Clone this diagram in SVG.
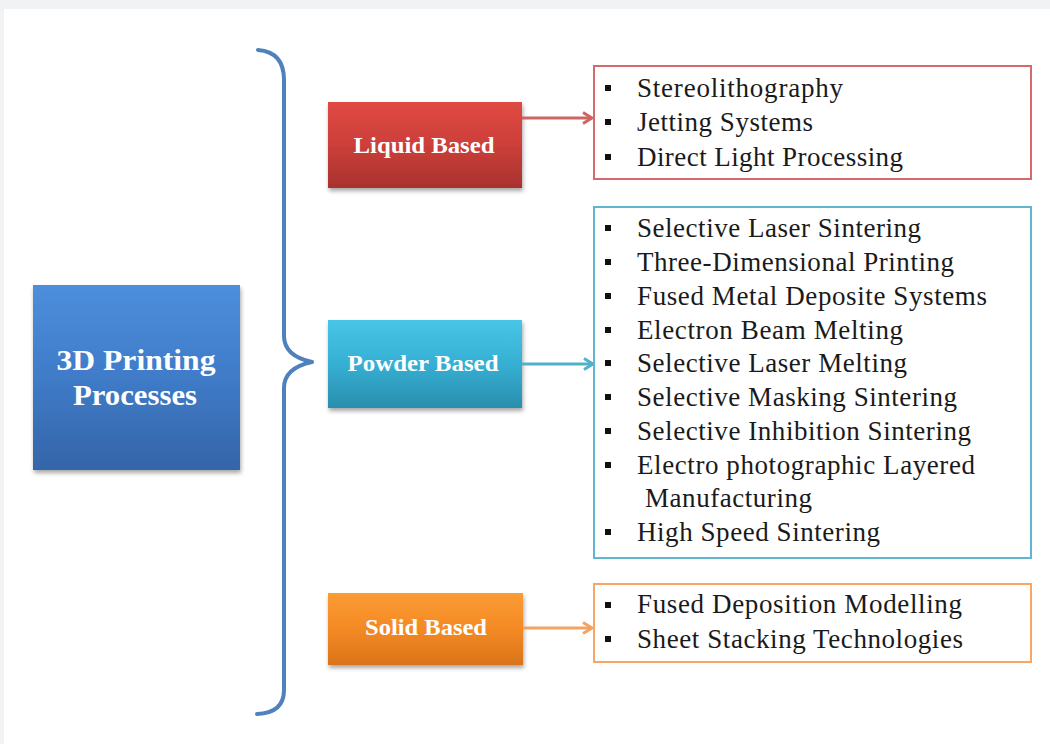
<svg xmlns="http://www.w3.org/2000/svg" width="1050" height="744" viewBox="0 0 1050 744">
  <defs>
    <linearGradient id="gBlue" x1="0" y1="0" x2="0" y2="1">
      <stop offset="0" stop-color="#4d8fdc"/>
      <stop offset="0.5" stop-color="#3f7bc8"/>
      <stop offset="1" stop-color="#3565a8"/>
    </linearGradient>
    <linearGradient id="gRed" x1="0" y1="0" x2="0" y2="1">
      <stop offset="0" stop-color="#e04a44"/>
      <stop offset="0.5" stop-color="#cc3f3a"/>
      <stop offset="1" stop-color="#a8322e"/>
    </linearGradient>
    <linearGradient id="gCyan" x1="0" y1="0" x2="0" y2="1">
      <stop offset="0" stop-color="#48c6e6"/>
      <stop offset="0.5" stop-color="#35afd3"/>
      <stop offset="1" stop-color="#2a8fae"/>
    </linearGradient>
    <linearGradient id="gOrange" x1="0" y1="0" x2="0" y2="1">
      <stop offset="0" stop-color="#fb9c36"/>
      <stop offset="0.5" stop-color="#f48a24"/>
      <stop offset="1" stop-color="#d9731a"/>
    </linearGradient>
    <filter id="shadow" x="-10%" y="-10%" width="125%" height="130%">
      <feGaussianBlur in="SourceAlpha" stdDeviation="2"/>
      <feOffset dx="1" dy="3" result="b"/>
      <feComponentTransfer><feFuncA type="linear" slope="0.35"/></feComponentTransfer>
      <feMerge><feMergeNode/><feMergeNode in="SourceGraphic"/></feMerge>
    </filter>
    <marker id="arrRed" viewBox="0 0 14 14" refX="12" refY="7" markerWidth="14" markerHeight="14" markerUnits="userSpaceOnUse" orient="auto">
      <path d="M3,1.5 L12,7 L3,12.5" fill="none" stroke="#cf6462" stroke-width="3" stroke-linejoin="round"/>
    </marker>
    <marker id="arrCyan" viewBox="0 0 14 14" refX="12" refY="7" markerWidth="14" markerHeight="14" markerUnits="userSpaceOnUse" orient="auto">
      <path d="M3,1.5 L12,7 L3,12.5" fill="none" stroke="#52b0cc" stroke-width="3" stroke-linejoin="round"/>
    </marker>
    <marker id="arrOrange" viewBox="0 0 14 14" refX="12" refY="7" markerWidth="14" markerHeight="14" markerUnits="userSpaceOnUse" orient="auto">
      <path d="M3,1.5 L12,7 L3,12.5" fill="none" stroke="#f4a262" stroke-width="3" stroke-linejoin="round"/>
    </marker>
  </defs>
  <style>
    .label { font-family: "Liberation Serif", "Times New Roman", serif; font-weight: bold; fill: #ffffff; text-anchor: middle; }
    .item { font-family: "Liberation Serif", "Times New Roman", serif; font-size: 27px; fill: #1a1a1a; }
    .bullet { fill: #111111; }
    .list { fill: #ffffff; stroke-width: 2; }
  </style>

  <!-- page -->
  <rect x="0" y="0" width="1050" height="744" fill="#f1f2f4"/>
  <rect x="4" y="9" width="1046" height="735" fill="#ffffff"/>

  <!-- root node -->
  <g id="root">
    <rect x="33" y="285" width="207" height="185" fill="url(#gBlue)" filter="url(#shadow)"/>
    <text class="label" x="136" y="370" font-size="30" textLength="159" lengthAdjust="spacingAndGlyphs">3D Printing</text>
    <text class="label" x="135" y="405" font-size="30" textLength="124" lengthAdjust="spacingAndGlyphs">Processes</text>
  </g>

  <!-- grouping brace -->
  <g id="brace">
    <path d="M258,50 Q284,52 284,80 L284,336 Q284,356 312,362 Q284,368 284,388 L284,690 Q284,713 257,714" fill="none" stroke="#4f81bd" stroke-width="4" stroke-linecap="round" stroke-linejoin="round"/>
  </g>

  <!-- category nodes -->
  <g id="liquid">
    <rect x="328" y="102" width="194" height="86" fill="url(#gRed)" filter="url(#shadow)"/>
    <text class="label" x="424" y="153" font-size="23" textLength="141" lengthAdjust="spacingAndGlyphs">Liquid Based</text>
  </g>
  <g id="powder">
    <rect x="328" y="320" width="194" height="88" fill="url(#gCyan)" filter="url(#shadow)"/>
    <text class="label" x="423" y="371" font-size="23" textLength="151" lengthAdjust="spacingAndGlyphs">Powder Based</text>
  </g>
  <g id="solid">
    <rect x="328" y="593" width="195" height="72" fill="url(#gOrange)" filter="url(#shadow)"/>
    <text class="label" x="426" y="635" font-size="23" textLength="122" lengthAdjust="spacingAndGlyphs">Solid Based</text>
  </g>

  <!-- connectors -->
  <g id="connectors" fill="none" stroke-width="3">
    <line x1="522" y1="118" x2="592" y2="118" stroke="#cf6462" marker-end="url(#arrRed)"/>
    <line x1="522" y1="364" x2="593" y2="364" stroke="#52b0cc" marker-end="url(#arrCyan)"/>
    <line x1="523" y1="628" x2="592" y2="628" stroke="#f4a262" marker-end="url(#arrOrange)"/>
  </g>

  <!-- liquid based methods -->
  <g id="liquid-list">
    <rect class="list" x="594" y="66" width="437" height="113" stroke="#d46a6a"/>
    <rect class="bullet" x="605" y="85" width="6" height="6"/>
    <rect class="bullet" x="605" y="119" width="6" height="6"/>
    <rect class="bullet" x="605" y="154" width="6" height="6"/>
    <text class="item" x="637" y="97" textLength="206" lengthAdjust="spacing">Stereolithography</text>
    <text class="item" x="637" y="131" textLength="176" lengthAdjust="spacing">Jetting Systems</text>
    <text class="item" x="637" y="166" textLength="266" lengthAdjust="spacing">Direct Light Processing</text>
  </g>

  <!-- powder based methods -->
  <g id="powder-list">
    <rect class="list" x="594" y="207" width="437" height="351" stroke="#62b6cf"/>
    <rect class="bullet" x="605" y="225" width="6" height="6"/>
    <rect class="bullet" x="605" y="259" width="6" height="6"/>
    <rect class="bullet" x="605" y="293" width="6" height="6"/>
    <rect class="bullet" x="605" y="327" width="6" height="6"/>
    <rect class="bullet" x="605" y="360" width="6" height="6"/>
    <rect class="bullet" x="605" y="394" width="6" height="6"/>
    <rect class="bullet" x="605" y="428" width="6" height="6"/>
    <rect class="bullet" x="605" y="462" width="6" height="6"/>
    <rect class="bullet" x="605" y="529" width="6" height="6"/>
    <text class="item" x="637" y="237" textLength="284" lengthAdjust="spacing">Selective Laser Sintering</text>
    <text class="item" x="637" y="271" textLength="317" lengthAdjust="spacing">Three-Dimensional Printing</text>
    <text class="item" x="637" y="305" textLength="350" lengthAdjust="spacing">Fused Metal Deposite Systems</text>
    <text class="item" x="637" y="339" textLength="266" lengthAdjust="spacing">Electron Beam Melting</text>
    <text class="item" x="637" y="372" textLength="270" lengthAdjust="spacing">Selective Laser Melting</text>
    <text class="item" x="637" y="406" textLength="320" lengthAdjust="spacing">Selective Masking Sintering</text>
    <text class="item" x="637" y="440" textLength="334" lengthAdjust="spacing">Selective Inhibition Sintering</text>
    <text class="item" x="637" y="474" textLength="338" lengthAdjust="spacing">Electro photographic Layered</text>
    <text class="item" x="645" y="507" textLength="167" lengthAdjust="spacing">Manufacturing</text>
    <text class="item" x="637" y="541" textLength="243" lengthAdjust="spacing">High Speed Sintering</text>
  </g>

  <!-- solid based methods -->
  <g id="solid-list">
    <rect class="list" x="594" y="584" width="437" height="78" stroke="#f5a668"/>
    <rect class="bullet" x="605" y="602" width="6" height="6"/>
    <rect class="bullet" x="605" y="636" width="6" height="6"/>
    <text class="item" x="637" y="613" textLength="325" lengthAdjust="spacing">Fused Deposition Modelling</text>
    <text class="item" x="637" y="648" textLength="326" lengthAdjust="spacing">Sheet Stacking Technologies</text>
  </g>
</svg>
